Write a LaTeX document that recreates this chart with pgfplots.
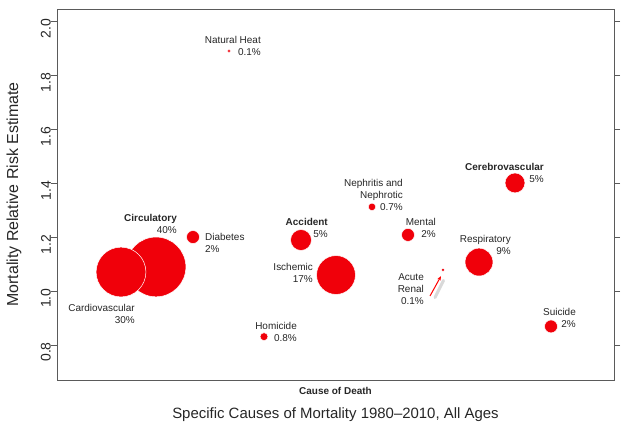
\documentclass[border=0pt]{standalone}
\usepackage{pgfplots}
\pgfplotsset{compat=1.18}
\usepackage{pgfplotstable}
\usepackage{fontspec}
\setmainfont{Liberation Sans}
\usetikzlibrary{arrows.meta}
\definecolor{axgray}{RGB}{90,90,90}
\definecolor{bubred}{RGB}{240,0,10}

\pgfplotstableread{
x   y      r
156 1.090  30
121 1.071  25
193 1.201  6.5
229 1.892  1.8
301 1.190  10.5
336 1.060  19.5
372 1.313  3.8
408 1.209  6.5
264 0.831  4
443 1.079  1.8
479 1.108  14
515 1.402  10
551 0.869  6.5
}\bubbles

\begin{document}
\begin{tikzpicture}
\begin{axis}[name=ax, scale only axis, width=557bp, height=371bp,
  xmin=57, xmax=614, ymin=0.670, ymax=2.048,
  clip=false,
  xtick=\empty,
  ytick={0.8,1.0,1.2,1.4,1.6,1.8,2.0},
  axis line style={axgray, line width=0.9bp},
  tick style={axgray, line width=0.9bp},
  tick align=outside, major tick length=6bp,
  yticklabel style={rotate=90, anchor=south, inner sep=0pt, xshift=-7bp, font=\fontsize{14}{16}\selectfont, text=black!85},
  ylabel={Mortality Relative Risk Estimate},
  ylabel style={at={(axis description cs:-0.0772,0.5)}, anchor=center, font=\fontsize{16}{18}\selectfont, text=black!85},
  /pgf/number format/.cd, fixed, fixed zerofill, precision=1, assume math mode=true]

\addplot[scatter, only marks, mark=*,
  scatter/use mapped color={draw=white, fill=bubred},
  mark options={line width=0.5bp},
  visualization depends on={\thisrow{r} \as \perpointmarksize},
  scatter/@pre marker code/.append style={/tikz/mark size=\perpointmarksize}]
  table[x=x, y=y] {\bubbles};

\begin{scope}[every node/.style={font=\fontsize{10}{12}\selectfont, inner sep=0pt, text=black!85}]
\node[align=right, anchor=north east] at (axis cs:261,1.946) {Natural Heat\\0.1\%};
\node[align=right, anchor=north east] at (axis cs:177,1.286) {\textbf{Circulatory}\\40\%};
\node[align=left, anchor=north west] at (axis cs:205,1.215) {Diabetes\\2\%};
\node[align=right, anchor=north east] at (axis cs:135,0.951) {Cardiovascular\\30\%};
\node[align=right, anchor=north east] at (axis cs:328,1.271) {\textbf{Accident}\\5\%};
\node[align=right, anchor=north east] at (axis cs:313,1.104) {Ischemic\\17\%};
\node[align=right, anchor=north east] at (axis cs:403,1.416) {Nephritis and\\Nephrotic\\0.7\%};
\node[align=right, anchor=north east] at (axis cs:436,1.271) {Mental\\2\%};
\node[align=right, anchor=north east] at (axis cs:297,0.884) {Homicide\\0.8\%};
\node[align=right, anchor=north east] at (axis cs:424,1.066) {Acute\\Renal\\0.1\%};
\node[align=right, anchor=north east] at (axis cs:511,1.208) {Respiratory\\9\%};
\node[align=right, anchor=north east] at (axis cs:544,1.475) {\textbf{Cerebrovascular}\\5\%};
\node[align=right, anchor=north east] at (axis cs:576,0.936) {Suicide\\2\%};
\end{scope}

\draw[black!15, line width=3bp, line cap=round] (axis cs:435,0.976) -- (axis cs:443.5,1.040);
\draw[red, line width=1bp, -{Stealth[length=4.5bp,width=3.5bp]}] (axis cs:430,0.982) -- (axis cs:441,1.056);

\node[font=\bfseries\fontsize{10}{12}\selectfont, text=black!85] at (axis description cs:0.5,-0.0296) {Cause of Death};
\node[font=\fontsize{15}{18}\selectfont, text=black!85] at (axis description cs:0.5,-0.0943) {Specific Causes of Mortality 1980–2010, All Ages};
\end{axis}
\path ([xshift=-57bp,yshift=-58bp]ax.south west) rectangle ([xshift=10bp,yshift=9bp]ax.north east);
\end{tikzpicture}
\end{document}
